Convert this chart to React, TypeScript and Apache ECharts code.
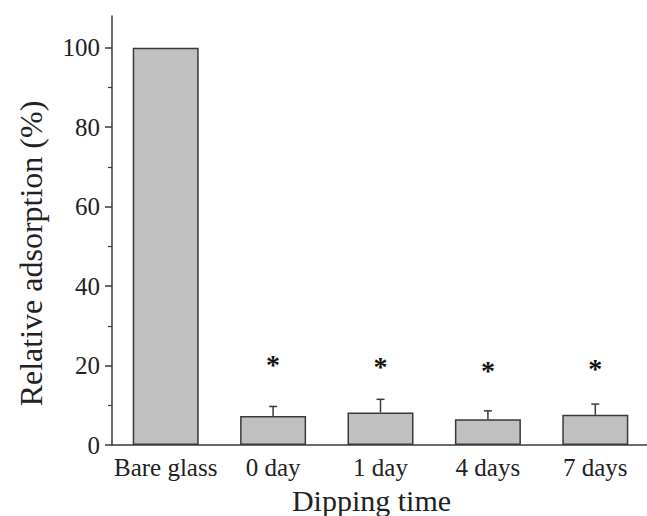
import React, { useEffect, useRef } from "react";
import * as echarts from "echarts";

const categories = ["Bare glass", "0 day", "1 day", "4 days", "7 days"];
const values = [100, 7.3, 8.2, 6.5, 7.6];
const errors = [0, 2.4, 3.3, 2.1, 2.7];
const starValues = [null, 20.9, 20.6, 19.6, 20.1];
const yMajorTicks = [0, 20, 40, 60, 80, 100];
const yMinorTicks = [10, 30, 50, 70, 90];

const FONT = "'Liberation Serif', 'Times New Roman', serif";
const DARK = "#3a3a3a";

export default function App() {
  const ref = useRef<HTMLDivElement>(null);
  useEffect(() => {
    if (!ref.current) return;
    const chart = echarts.init(ref.current, null, { renderer: "svg" });
    const errData = values.map((v, i) => [i, v, v + errors[i]]).filter((d, i) => errors[i] > 0);
    const starData = starValues
      .map((s, i) => (s == null ? null : [i, s]))
      .filter((d) => d !== null);
    chart.setOption({
      animation: false,
      backgroundColor: "#ffffff",
      grid: { left: 112, top: 16, width: 537, height: 429, outerBoundsMode: "none", containLabel: false },
      xAxis: {
        type: "category",
        data: categories,
        name: "Dipping time",
        nameLocation: "middle",
        nameGap: 40,
        nameMoveOverlap: false,
        nameTextStyle: { fontFamily: FONT, fontSize: 30, color: "#222", padding: [0, 18, 0, 0] },
        axisLine: { lineStyle: { color: DARK, width: 1.5 } },
        axisTick: { show: false },
        axisLabel: { fontFamily: FONT, fontSize: 25, color: "#222", margin: 10, interval: 0, hideOverlap: false },
      },
      yAxis: [
        {
          type: "value",
          min: 0,
          max: 108,
          name: "Relative adsorption (%)",
          nameLocation: "middle",
          nameGap: 65,
          nameMoveOverlap: false,
          nameTextStyle: { fontFamily: FONT, fontSize: 32, color: "#222", padding: [0, 46, 0, 0] },
          axisLine: { show: true, lineStyle: { color: DARK, width: 1.5 } },
          axisTick: {
            show: true,
            inside: false,
            length: 7,
            lineStyle: { color: DARK, width: 1.5 },
            customValues: yMajorTicks,
          },
          axisLabel: {
            fontFamily: FONT,
            fontSize: 25,
            color: "#222",
            margin: 12,
            customValues: yMajorTicks,
          },
          splitLine: { show: false },
        },
        {
          type: "value",
          min: 0,
          max: 108,
          position: "left",
          axisLine: { show: false },
          axisTick: {
            show: true,
            inside: false,
            length: 4,
            lineStyle: { color: DARK, width: 1.2 },
            customValues: yMinorTicks,
          },
          axisLabel: { show: false },
          splitLine: { show: false },
        },
      ],
      series: [
        {
          type: "bar",
          data: values,
          barWidth: 66,
          itemStyle: { color: "#c0c0c0", borderColor: DARK, borderWidth: 1.5 },
        },
        {
          type: "custom",
          data: errData,
          renderItem: (params: any, api: any) => {
            const base = api.coord([api.value(0), api.value(1)]);
            const top = api.coord([api.value(0), api.value(2)]);
            const st = { stroke: DARK, lineWidth: 1.5 };
            return {
              type: "group",
              children: [
                { type: "line", shape: { x1: base[0], y1: base[1], x2: top[0], y2: top[1] }, style: st },
                { type: "line", shape: { x1: top[0] - 4, y1: top[1], x2: top[0] + 4, y2: top[1] }, style: st },
              ],
            };
          },
          z: 5,
        },
        {
          type: "custom",
          data: starData,
          renderItem: (params: any, api: any) => {
            const p = api.coord([api.value(0), api.value(1)]);
            return {
              type: "text",
              x: p[0],
              y: p[1] + 3,
              style: {
                text: "*",
                fontFamily: FONT,
                fontSize: 28,
                fontWeight: "bold",
                fill: "#111",
                align: "center",
                verticalAlign: "middle",
              },
            };
          },
          z: 5,
        },
      ],
    });
    return () => chart.dispose();
  }, []);
  return <div ref={ref} style={{ position: "absolute", left: 0, top: 0, width: 647, height: 516 }} />;
}
